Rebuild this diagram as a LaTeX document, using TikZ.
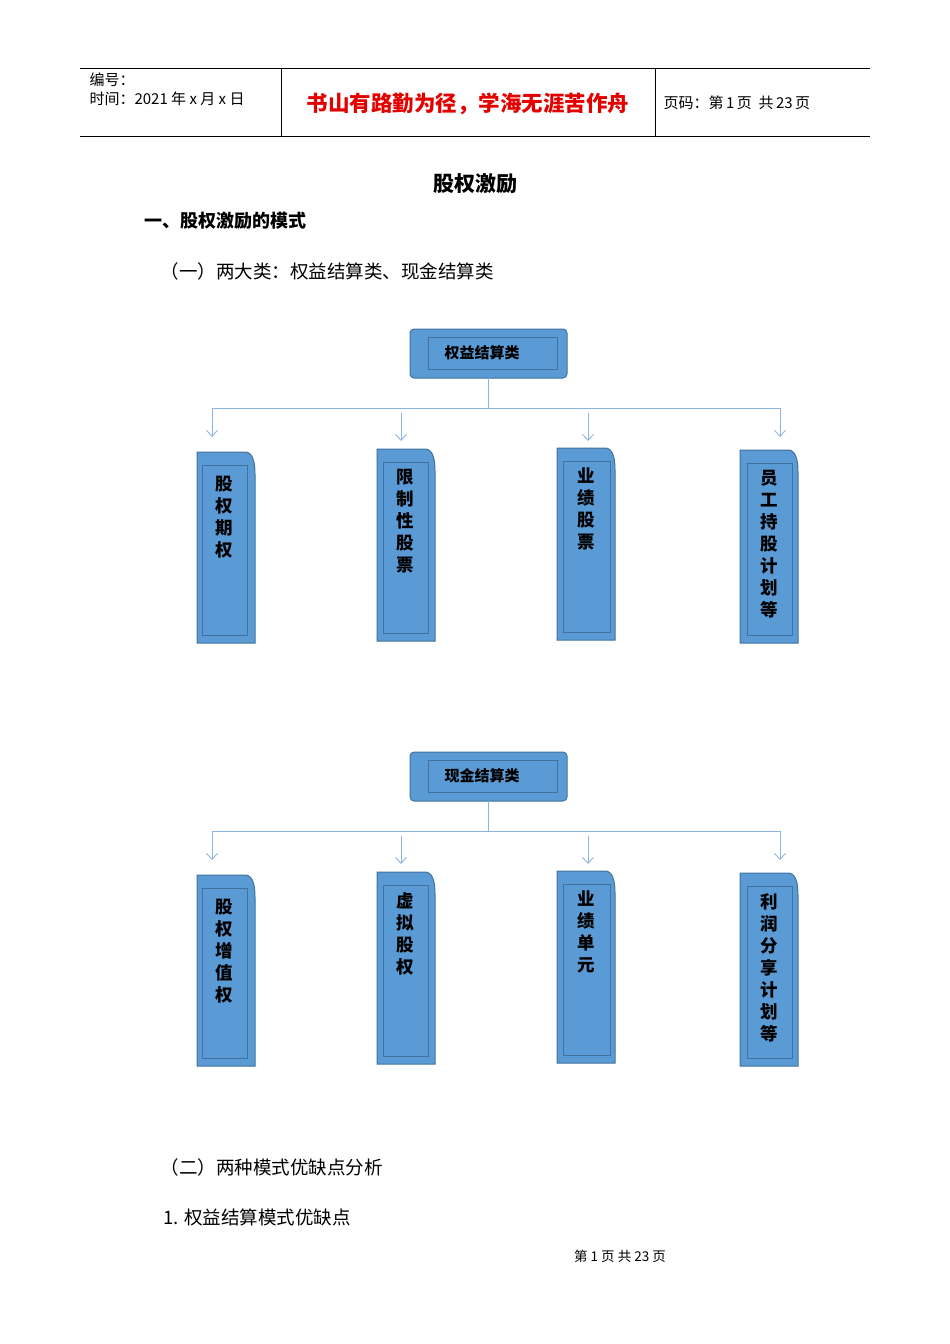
\documentclass[tikz,border=0pt]{standalone}
\usepackage{fontspec}
\setmainfont{Liberation Sans}
\newfontfamily\cjk{Noto Sans CJK SC}
\usetikzlibrary{arrows.meta,calc}
\definecolor{bfill}{HTML}{5B9BD5}
\definecolor{bline}{HTML}{41719C}
\definecolor{aline}{HTML}{8DB3E2}
\tikzset{
  conn/.style={aline,line width=0.9pt},
  arr/.style={aline,line width=0.9pt,-{Straight Barb[length=6pt,width=11pt]}},
  vtext/.style={anchor=north,align=center,font=\cjk\bfseries\fontsize{17.5}{22}\selectfont,inner sep=0pt},
  rtext/.style={font=\cjk\bfseries\fontsize{15}{17}\selectfont},
}
\newcommand{\leafbox}[7]{% x1 y1 x2 y2 ix1 ix2 name
  \fill[bfill,draw=bline,line width=1pt] (#1,#4)--(#1,#2)--(#3-10,#2) .. controls (#3-3,#2) and (#3,#2+8) .. (#3,#2+22)--(#3,#4)--cycle;
  \draw[bline,line width=1pt] (#5,#2+13) rectangle (#6,#4-8);
  \coordinate (#7) at ({(#5+#6)/2},#2+20);
}
\begin{document}
\begin{tikzpicture}[x=1pt,y=-1pt]
\useasboundingbox (0,0) rectangle (950,1344);
\fill[white] (0,0) rectangle (950,1344);
% header
\draw[line width=0.6pt] (80,68)--(870,68) (80,136)--(870,136) (281,68)--(281,136) (655,68)--(655,136);
\node[anchor=west,font=\cjk\fontsize{15}{17}\selectfont] (h1) at (86,80) {编号：};
\node[anchor=west,font=\cjk\fontsize{15}{17}\selectfont] (h2) at (86,99) {时间：2021 年 x 月 x 日};
\node[font=\cjk\bfseries\fontsize{21.5}{24}\selectfont,text=red!90!black] (h3) at (468,104) {书山有路勤为径，学海无涯苦作舟};
\node[anchor=west,font=\cjk\fontsize{15}{17}\selectfont] (h4) at (660,103) {页码：第\,1\,页\ \ 共\,23\,页};
\node[font=\cjk\bfseries\fontsize{21}{23}\selectfont] (t) at (475,184) {股权激励};
\node[anchor=west,font=\cjk\bfseries\fontsize{18}{20}\selectfont] (s1) at (141,221) {一、股权激励的模式};
\node[anchor=west,font=\cjk\fontsize{18.5}{20}\selectfont] (s2) at (157,271) {（一）两大类：权益结算类、现金结算类};
\node[anchor=west,font=\cjk\fontsize{18.5}{20}\selectfont] (s3) at (157,1167) {（二）两种模式优缺点分析};
\node[anchor=west,font=\cjk\fontsize{18.5}{20}\selectfont] (s4) at (160,1217) {1. 权益结算模式优缺点};
\node[font=\cjk\fontsize{13.5}{15}\selectfont] (ft) at (620,1256) {第\ 1\ 页\ 共\ 23\ 页};
\foreach \oy/\lab/\nm in {0/权益结算类/r1, 423/现金结算类/r2}{
  \begin{scope}[yshift=-\oy pt]
  \fill[bfill,draw=bline,line width=1pt,rounded corners=4pt] (410,329) rectangle (567,378);
  \draw[bline,line width=1pt] (428,337) rectangle (557,369);
  \node[rtext] (\nm) at (482,353) {\lab};
  \coordinate (\nm b) at (488,378);
  \coordinate (\nm j) at (488,408);
  \coordinate (\nm L) at (212,408);
  \coordinate (\nm R) at (780,408);
  \coordinate (\nm a) at (212,437);
  \coordinate (\nm d) at (780,437);
  \coordinate (\nm p) at (401,413);
  \coordinate (\nm q) at (401,441);
  \coordinate (\nm u) at (588,413);
  \coordinate (\nm v) at (588,441);
  \end{scope}
  \draw[conn] (\nm b)--(\nm j);
  \draw[arr] (\nm j)--(\nm L)--(\nm a);
  \draw[arr] (\nm j)--(\nm R)--(\nm d);
  \draw[arr] (\nm p)--(\nm q);
  \draw[arr] (\nm u)--(\nm v);
}
\leafbox{197}{452}{255}{643}{202}{247}{b1}
\leafbox{377}{449}{435}{641}{383}{428}{b2}
\leafbox{557}{448}{615}{640}{563}{610}{b3}
\leafbox{740}{450}{798}{643}{747}{792}{b4}
\node[vtext] (t1) at ($(b1)+(0,4)$) {股\\权\\期\\权};
\node[vtext] (t2) at (b2) {限\\制\\性\\股\\票};
\node[vtext] (t3) at (b3) {业\\绩\\股\\票};
\node[vtext] (t4) at (b4) {员\\工\\持\\股\\计\\划\\等};
\leafbox{197}{875}{255}{1066}{202}{247}{c1}
\leafbox{377}{872}{435}{1064}{383}{428}{c2}
\leafbox{557}{871}{615}{1063}{563}{610}{c3}
\leafbox{740}{873}{798}{1066}{747}{792}{c4}
\node[vtext] (u1) at ($(c1)+(0,4)$) {股\\权\\增\\值\\权};
\node[vtext] (u2) at (c2) {虚\\拟\\股\\权};
\node[vtext] (u3) at (c3) {业\\绩\\单\\元};
\node[vtext] (u4) at (c4) {利\\润\\分\\享\\计\\划\\等};
\end{tikzpicture}
\end{document}
